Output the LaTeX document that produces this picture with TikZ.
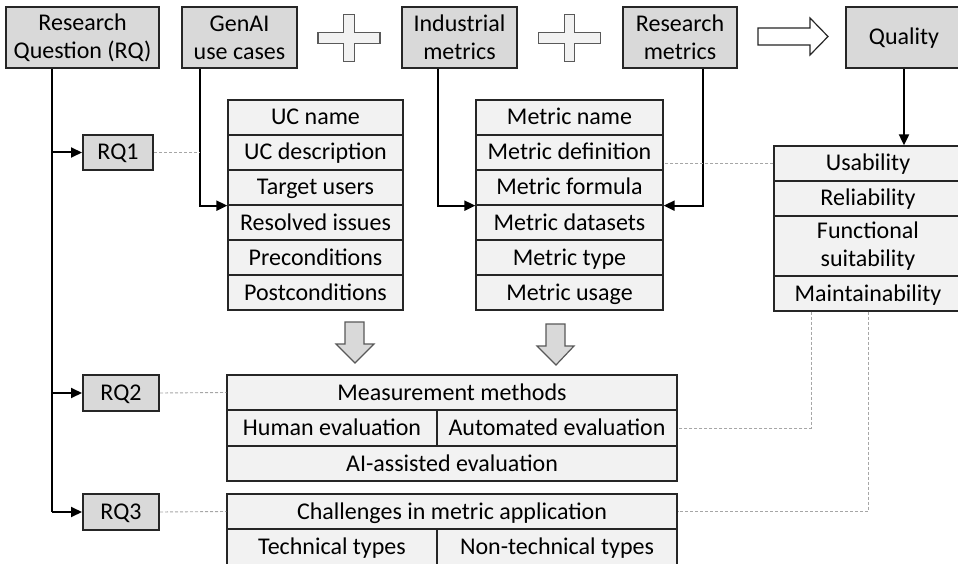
\documentclass[tikz,border=0pt]{standalone}
\usepackage{fontspec}
\setmainfont{Carlito}
\usetikzlibrary{arrows.meta}
\definecolor{hdrfill}{HTML}{D9D9D9}
\definecolor{cellfill}{HTML}{F2F2F2}
\definecolor{edge}{HTML}{262626}
\definecolor{dashgray}{HTML}{A6A6A6}
\definecolor{shapeline}{HTML}{595959}

\begin{document}
\begin{tikzpicture}[x=1pt,y=-1pt,
  font=\fontsize{24}{28}\selectfont,
  hdr/.style={draw=edge, line width=2pt, fill=hdrfill, inner sep=0pt, align=center},
  onerow/.style={text height=18pt, text depth=3pt},
  cell/.style={draw=edge, line width=1.3pt, fill=cellfill, inner sep=0pt, align=center},
  ucrow/.style={cell, onerow, minimum width=175pt, minimum height=35pt},
  mrow/.style={cell, onerow, minimum width=187pt, minimum height=35pt},
  qrow/.style={cell, minimum width=188pt, minimum height=35pt},
  conn/.style={line width=2pt, -{Triangle[length=11pt,width=10pt]}},
  trunk/.style={line width=2pt},
  link/.style={draw=dashgray, line width=0.9pt, dash pattern=on 3pt off 2pt},
  plusshape/.style={draw=shapeline, fill=cellfill, line width=1.2pt},
  hollow/.style={draw=edge, fill=white, line width=1.2pt},
  blockdown/.style={draw=shapeline, fill=hdrfill, line width=1.2pt},
  plussign/.pic={\draw[plusshape] (-5.25,-23.5) -- (5.25,-23.5) -- (5.25,-5.25)
      -- (31,-5.25) -- (31,5.25) -- (5.25,5.25) -- (5.25,23.5) -- (-5.25,23.5)
      -- (-5.25,5.25) -- (-31,5.25) -- (-31,-5.25) -- (-5.25,-5.25) -- cycle;},
]
\useasboundingbox (0,0) rectangle (958,564);
\clip (0,0) rectangle (958,564);
\fill[white] (0,0) rectangle (958,564);

% top row of headers
\node[hdr, minimum width=153pt, minimum height=61pt] (rq) at (82.5,37.5) {Research\\Question (RQ)};
\node[hdr, minimum width=115pt, minimum height=61pt] (genai) at (239.5,37.5) {GenAI\\use cases};
\node[hdr, minimum width=115pt, minimum height=61pt] (ind) at (459.5,37.5) {Industrial\\metrics};
\node[hdr, minimum width=114pt, minimum height=61pt] (res) at (680,37.5) {Research\\metrics};
\node[hdr, onerow, minimum width=116pt, minimum height=61pt] (qual) at (904,37.5) {Quality};

% plus signs and the "leads to" arrow
\pic at (349,38) {plussign};
\pic at (569.5,38) {plussign};
\draw[hollow] (758,28) -- (810,28) -- (810,18) -- (828,36.5) -- (810,55) -- (810,45) -- (758,45) -- cycle;

% use case attributes
\node[ucrow] (uc1) at (315.5,117.5) {UC name};
\node[ucrow] (uc2) at (315.5,152.5) {UC description};
\node[ucrow] (uc3) at (315.5,187.5) {Target users};
\node[ucrow] (uc4) at (315.5,222.5) {Resolved issues};
\node[ucrow] (uc5) at (315.5,257.5) {Preconditions};
\node[ucrow] (uc6) at (315.5,292.5) {Postconditions};

% metric attributes
\node[mrow] (m1) at (569.5,117.5) {Metric name};
\node[mrow] (m2) at (569.5,152.5) {Metric definition};
\node[mrow] (m3) at (569.5,187.5) {Metric formula};
\node[mrow] (m4) at (569.5,222.5) {Metric datasets};
\node[mrow] (m5) at (569.5,257.5) {Metric type};
\node[mrow] (m6) at (569.5,292.5) {Metric usage};

% quality characteristics
\node[qrow, onerow] (quse) at (868,163.5) {Usability};
\node[qrow, onerow] (qrel) at (868,198.5) {Reliability};
\node[qrow, minimum height=60pt] (qfun) at (868,246) {Functional\\suitability};
\node[qrow, onerow] (qmain) at (868,293.5) {Maintainability};

% research question boxes
\node[hdr, onerow, minimum width=70pt, minimum height=35pt] (rq1) at (118,152.5) {RQ1};
\node[hdr, onerow, minimum width=76pt, minimum height=36pt] (rq2) at (121,393) {RQ2};
\node[hdr, onerow, minimum width=76pt, minimum height=36pt] (rq3) at (121,512) {RQ3};

% measurement methods
\node[cell, onerow, minimum width=450pt, minimum height=35pt] (meas) at (452,392.5) {Measurement methods};
\node[cell, onerow, minimum width=210pt, minimum height=36pt] (human) at (332,428) {Human evaluation};
\node[cell, onerow, minimum width=240pt, minimum height=36pt] (auto) at (557,428) {Automated evaluation};
\node[cell, onerow, minimum width=450pt, minimum height=35pt] (aiass) at (452,463.5) {AI-assisted evaluation};

% challenges
\node[cell, onerow, minimum width=450pt, minimum height=35pt] (chal) at (452,511.5) {Challenges in metric application};
\node[cell, onerow, minimum width=210pt, minimum height=36pt] (tech) at (332,547) {Technical types};
\node[cell, onerow, minimum width=240pt, minimum height=36pt] (nontech) at (557,547) {Non-technical types};

% block arrows between the attribute lists and the methods
\draw[blockdown] (345,322) -- (364,322) -- (364,344) -- (374,344) -- (355,363) -- (336,344) -- (345,344) -- cycle;
\draw[blockdown] (546,324) -- (565,324) -- (565,346) -- (574,346) -- (556,365) -- (537,346) -- (546,346) -- cycle;

% connectors from the headers
\coordinate (rqout) at ([xshift=-30.5pt]rq.south);
\coordinate (gaout) at ([xshift=-39.5pt]genai.south);
\coordinate (inout) at ([xshift=-21.5pt]ind.south);
\coordinate (resout) at ([xshift=23pt]res.south);
\coordinate (mainleft) at ([xshift=-57pt]qmain.south);

\draw[trunk] (rqout) -- (rqout |- rq3);
\draw[conn] (rqout |- rq1) -- (rq1);
\draw[conn] (rqout |- rq2) -- (rq2);
\draw[conn] (rqout |- rq3) -- (rq3);
\draw[conn] (gaout) |- (uc3.south west);
\draw[conn] (inout) |- (m3.south west);
\draw[conn] (resout) |- (m3.south east);
\draw[conn] (qual.south) -- (qual.south |- quse.north);

% dotted relations
\draw[link] (rq1.east) -- (rq1.east -| gaout);
\draw[link] (quse.west) -- (quse.west -| m2.east);
\draw[link] (rq2.east) -- (meas.west);
\draw[link] (rq3.east) -- (chal.west);
\draw[link] (mainleft) |- (auto.east);
\draw[link] (qmain.south) |- (chal.east);
\end{tikzpicture}
\end{document}
